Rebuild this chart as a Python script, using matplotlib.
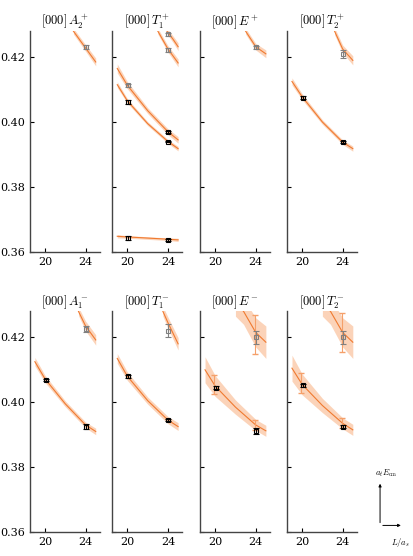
import matplotlib
matplotlib.use("Agg")
import matplotlib.pyplot as plt
import numpy as np

plt.rcParams['mathtext.fontset'] = 'cm'
plt.rcParams['font.family'] = 'serif'
plt.rcParams['font.serif'] = ['DejaVu Serif']

titles = [r"$[000]\,A_2^+$", r"$[000]\,T_1^+$", r"$[000]\,E^+$", r"$[000]\,T_2^+$",
          r"$[000]\,A_1^-$", r"$[000]\,T_1^-$", r"$[000]\,E^-$", r"$[000]\,T_2^-$"]

# bands: (L values, centre values, half widths)
bands = [
    [([22.8, 24, 25], [0.428, 0.4228, 0.4185], [0.0009, 0.0010, 0.0012])],
    [([23.9, 24.5, 25], [0.428, 0.4255, 0.4232], [0.0009, 0.0010, 0.0012]),
     ([23.0, 24, 25], [0.428, 0.4225, 0.4182], [0.0009, 0.0010, 0.0012]),
     ([19, 20, 22, 24, 25], [0.4165, 0.4113, 0.4035, 0.3970, 0.3945], [0.0014, 0.0011, 0.0009, 0.0009, 0.0010]),
     ([19, 20, 22, 24, 25], [0.4115, 0.4065, 0.3995, 0.3940, 0.3918], [0.0009, 0.0007, 0.0006, 0.0006, 0.0007]),
     ([19, 20, 24, 25], [0.3648, 0.3646, 0.3639, 0.3637], [0.0005, 0.0004, 0.0004, 0.0005])],
    [([23.0, 24, 25], [0.428, 0.4232, 0.4210], [0.0009, 0.0010, 0.0012])],
    [([23.2, 24, 25], [0.428, 0.4225, 0.4190], [0.0011, 0.0012, 0.0014]),
     ([19, 20, 22, 24, 25], [0.4125, 0.4078, 0.4000, 0.3938, 0.3918], [0.0011, 0.0009, 0.0007, 0.0007, 0.0008])],
    [([23.3, 24, 25], [0.428, 0.4235, 0.4192], [0.0013, 0.0015, 0.0016]),
     ([19, 20, 22, 24, 25], [0.4125, 0.4072, 0.3995, 0.3930, 0.3910], [0.0013, 0.0011, 0.0009, 0.0009, 0.0010])],
    [([23.5, 24, 25], [0.428, 0.4245, 0.4180], [0.0015, 0.0017, 0.0019]),
     ([19, 20, 22, 24, 25], [0.4135, 0.4080, 0.4005, 0.3945, 0.3925], [0.0015, 0.0013, 0.0011, 0.0011, 0.0012])],
    [([22, 22.8, 24, 25], [0.4305, 0.428, 0.4215, 0.4185], [0.0040, 0.0040, 0.0045, 0.0050]),
     ([19, 20, 22, 24, 25], [0.4100, 0.4050, 0.3985, 0.3930, 0.3912], [0.0040, 0.0032, 0.0022, 0.0017, 0.0017])],
    [([22, 22.8, 24, 25], [0.4305, 0.428, 0.4215, 0.4185], [0.0040, 0.0040, 0.0045, 0.0050]),
     ([19, 20, 22, 24, 25], [0.4105, 0.4055, 0.3990, 0.3935, 0.3915], [0.0040, 0.0032, 0.0022, 0.0017, 0.0017])],
]

# lattice points: (L, E, err, colour)
points = [
    [(24, 0.4230, 0.0006, 'grey')],
    [(24, 0.4270, 0.0004, 'grey'), (24, 0.4222, 0.0006, 'grey'), (20, 0.4113, 0.0005, 'grey'),
     (24, 0.3970, 0.0003, 'black'), (20, 0.4062, 0.0005, 'black'), (24, 0.3940, 0.0003, 'black'),
     (20, 0.3643, 0.0006, 'black'), (24, 0.3638, 0.0003, 'black')],
    [(24, 0.4230, 0.0005, 'grey')],
    [(24, 0.4210, 0.0012, 'grey'), (20, 0.4075, 0.0004, 'black'), (24, 0.3938, 0.0003, 'black')],
    [(24, 0.4225, 0.0010, 'grey'), (20, 0.4068, 0.0004, 'black'), (24, 0.3925, 0.0007, 'black')],
    [(24, 0.4220, 0.0020, 'grey'), (20, 0.4080, 0.0004, 'black'), (24, 0.3945, 0.0003, 'black')],
    [(24, 0.4200, 0.0020, 'grey'), (20, 0.4045, 0.0004, 'black'), (24, 0.3912, 0.0010, 'black')],
    [(24, 0.4200, 0.0020, 'grey'), (20, 0.4052, 0.0004, 'black'), (24, 0.3925, 0.0004, 'black')],
]

# model predictions with uncertainty (orange error bars)
preds = [[], [], [], [], [], [],
         [(24, 0.4210, 0.0060), (20, 0.4055, 0.0030), (24, 0.3930, 0.0015)],
         [(24, 0.4215, 0.0060), (20, 0.4060, 0.0030), (24, 0.3935, 0.0015)]]

fig = plt.figure(figsize=(4.14, 5.56), dpi=100)
lefts = [0.072, 0.271, 0.483, 0.693]
bottoms = [0.547, 0.043]
w, h = 0.169, 0.397
orange = '#f07a30'
band_c = '#fbc9a8'
for i in range(8):
    ax = fig.add_axes([lefts[i % 4], bottoms[i // 4], w, h])
    for L, c, hw in bands[i]:
        L = np.array(L); c = np.array(c); hw = np.array(hw)
        ax.fill_between(L, c - hw, c + hw, color=band_c, alpha=0.8, lw=0)
        ax.plot(L, c, color=orange, lw=0.8)
    for L, E, e in preds[i]:
        ax.errorbar(L - 0.1, E, yerr=e, color='#f5a06a', capsize=2, lw=0.8, fmt='none')
    for L, E, e, col in points[i]:
        ax.errorbar(L + 0.05, E, yerr=e, fmt='s', ms=2.5, mfc='none', mec=col, color=col,
                    capsize=2, lw=0.8, mew=0.8)
    ax.set_xlim(18.5, 25.4)
    ax.set_ylim(0.36, 0.428)
    ax.set_xticks([20, 24])
    ax.set_yticks([0.36, 0.38, 0.40, 0.42])
    for s in ['top', 'right']:
        ax.spines[s].set_visible(False)
    for s in ['left', 'bottom']:
        ax.spines[s].set_color('#444444')
        ax.spines[s].set_linewidth(1.0)
    ax.tick_params(labelsize=8, direction='in', length=3)
    if i % 4 != 0:
        ax.set_yticklabels([])
    ax.set_title(titles[i], fontsize=9, pad=3)

fig.text(0.905, 0.145, r"$a_t E_{\rm cm}$", fontsize=6)
fig.text(0.945, 0.02, r"$L/a_s$", fontsize=6)
fig.add_artist(matplotlib.patches.FancyArrowPatch((0.918, 0.055), (0.918, 0.135), transform=fig.transFigure,
               arrowstyle='-|>', mutation_scale=4, lw=0.7, color='black'))
fig.add_artist(matplotlib.patches.FancyArrowPatch((0.918, 0.055), (0.975, 0.055), transform=fig.transFigure,
               arrowstyle='-|>', mutation_scale=4, lw=0.7, color='black'))
fig.savefig("out.png", dpi=100)
